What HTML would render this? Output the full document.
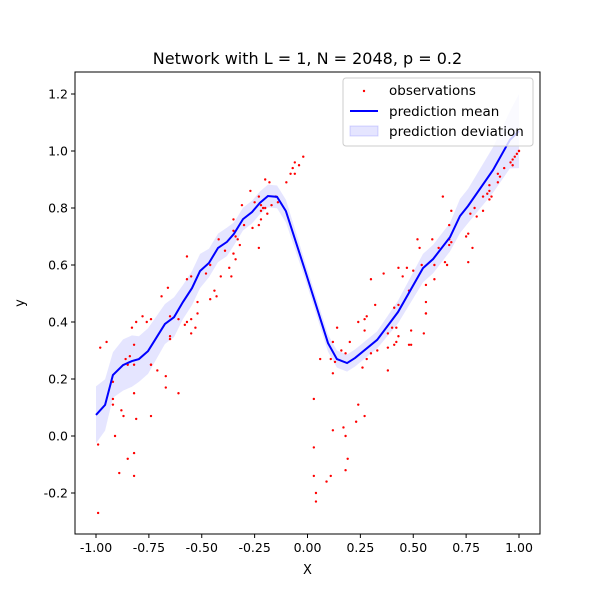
<!DOCTYPE html>
<html><head><meta charset="utf-8"><style>
body{margin:0;background:#fff;}
svg{font-family:"DejaVu Sans","Liberation Sans",sans-serif;}
</style></head><body>
<svg id="chart" width="600" height="600" xmlns="http://www.w3.org/2000/svg"></svg>
<script>
const obsX=[-.99,-.99,-.98,-.95,-.92,-.92,-.92,-.91,-.89,-.88,-.87,-.85,-.86,-.84,-.85,-.82,-.82,-.82,-.81,-.82,-.82,-.83,-.81,-.78,-.76,-.74,-.74,-.74,-.74,-.71,-.69,-.66,-.67,-.67,-.65,-.65,-.65,-.61,-.61,-.58,-.57,-.55,-.55,-.53,-.52,-.52,-.57,-.55,-.57,-.48,-.46,-.46,-.44,-.43,-.42,-.41,-.39,-.37,-.36,-.35,-.34,-.35,-.35,-.34,-.33,-.32,-.31,-.30,-.27,-.26,-.25,-.23,-.23,-.23,-.22,-.22,-.22,-.21,-.20,-.20,-.19,-.18,-.17,-.15,-.14,-.10,-.08,-.07,-.06,-.06,-.04,-.02,
.03,.03,.03,.04,.04,.06,.09,.11,.12,.12,.11,.12,.13,.14,.16,.17,.18,.18,.19,.18,.20,.23,.24,.24,.26,.27,.28,.27,.27,.28,.30,.30,.32,.33,.36,.38,.38,.38,.40,.41,.41,.42,.42,.43,.43,.43,.45,.47,.48,.49,.48,.49,.50,.52,.53,.54,.55,.56,.56,.56,.56,.59,.60,.60,.62,.64,.65,.66,.67,.67,.67,.68,.68,.75,.76,.76,.77,.78,.79,.80,.83,.83,.85,.86,.86,.87,.86,.90,.90,.91,.93,.96,.97,.97,.98,.99,1.0,1.0];
const obsY=[-.27,-.03,.31,.33,.19,.13,.11,0,-.13,.09,.07,-.08,.27,.28,.25,.32,.25,.15,.06,-.06,-.14,.38,.40,.42,.40,.41,.25,.25,.07,.23,.49,.52,.21,.17,.34,.35,.42,.41,.15,.39,.40,.41,.36,.38,.43,.47,.55,.56,.63,.57,.48,.60,.51,.49,.69,.56,.65,.59,.56,.64,.62,.76,.72,.70,.69,.67,.81,.74,.86,.73,.82,.74,.66,.84,.81,.76,.79,.80,.90,.80,.78,.89,.81,.84,.82,.89,.92,.94,.92,.96,.95,.98,
.13,-.04,-.14,-.20,-.23,.27,-.16,-.14,.02,.22,.27,.33,.26,.38,.30,.03,0,-.12,-.08,.29,.33,.05,.11,.40,.24,.41,.42,.37,.07,.27,.55,.29,.46,.30,.57,.36,.31,.23,.38,.45,.32,.33,.38,.35,.59,.46,.56,.59,.32,.32,.51,.37,.58,.69,.66,.60,.36,.43,.43,.47,.53,.69,.60,.55,.66,.84,.61,.60,.69,.74,.67,.79,.68,.70,.71,.61,.78,.66,.80,.77,.84,.79,.85,.86,.83,.84,.88,.92,.89,.91,.94,.96,.95,.97,.98,.99,1.0,1.0];
const meanX=[-1.0,-.957,-.92,-.872,-.83,-.797,-.754,-.674,-.631,-.589,-.546,-.508,-.466,-.423,-.381,-.348,-.305,-.262,-.225,-.187,-.144,-.102,-.012,.097,.139,.187,.225,.329,.428,.546,.594,.674,.721,.759,.877,.957,1.0];
const meanY=[.074,.109,.214,.249,.263,.270,.298,.393,.417,.470,.519,.579,.607,.660,.681,.709,.761,.786,.818,.842,.839,.789,.582,.326,.270,.256,.274,.337,.435,.589,.621,.698,.772,.807,.933,1.039,1.07];
const devY=[.1,.09,.08,.09,.09,.08,.08,.07,.07,.06,.06,.06,.05,.05,.05,.04,.04,.04,.04,.04,.04,.04,.03,.03,.03,.03,.03,.03,.04,.05,.05,.05,.06,.06,.08,.1,.13];
const xTicks=[-1.0,-0.75,-0.5,-0.25,0.0,0.25,0.5,0.75,1.0];
const yTicks=[-0.2,0.0,0.2,0.4,0.6,0.8,1.0,1.2];

const L=75,R=540,T=72,B=534;
const sx=v=>307.5+v*211.5;
const sy=v=>436-v*285;
const svg=document.getElementById('chart');
const NS='http://www.w3.org/2000/svg';
function mk(tag,attrs,parent){const e=document.createElementNS(NS,tag);for(const k in attrs)e.setAttribute(k,attrs[k]);(parent||svg).appendChild(e);return e;}

let pts=meanX.map((x,i)=>sx(x)+','+sy(meanY[i]+devY[i]));
pts=pts.concat(meanX.map((x,i)=>sx(x)+','+sy(meanY[i]-devY[i])).reverse());
const band=mk('polygon',{points:pts.join(' '),fill:'#0000ff',opacity:'0.1'});



const g=mk('g',{});


obsX.forEach((x,i)=>{const c=mk('circle',{cx:sx(x),cy:sy(obsY[i]),r:1.2,fill:'#ff0000'},g);

});

const ml=mk('polyline',{points:meanX.map((x,i)=>sx(x)+','+sy(meanY[i])).join(' '),fill:'none',stroke:'#0000ff','stroke-width':2});



const fr=mk('rect',{x:L,y:T,width:R-L,height:B-T,fill:'none',stroke:'#000','stroke-width':1});



xTicks.forEach(t=>{const x=sx(t);mk('line',{x1:x,x2:x,y1:B,y2:B+4,stroke:'#000'});
const tx=mk('text',{x:x,y:B+18,'font-size':'12.5','text-anchor':'middle'});tx.textContent=t.toFixed(2);

});
yTicks.forEach(t=>{const y=sy(t);mk('line',{x1:L-4,x2:L,y1:y,y2:y,stroke:'#000'});
const tx=mk('text',{x:L-7,y:y+4.5,'font-size':'12.5','text-anchor':'end'});tx.textContent=t.toFixed(1);

});

const title=mk('text',{x:307.5,y:64,'font-size':'16','text-anchor':'middle'});title.textContent='Network with L = 1, N = 2048, p = 0.2';


const xl=mk('text',{x:307.5,y:574,'font-size':'13','text-anchor':'middle'});xl.textContent='X';


const yl=mk('text',{x:24,y:303,'font-size':'13','text-anchor':'middle',transform:'rotate(-90 24 303)'});yl.textContent='y';



const lg=mk('g',{});


mk('rect',{x:343,y:78,width:190,height:68,rx:3,fill:'#fff','fill-opacity':'0.8',stroke:'#ccc'},lg);
mk('circle',{cx:364,cy:91,r:1.2,fill:'#ff0000'},lg);
mk('line',{x1:350,x2:378,y1:111,y2:111,stroke:'#0000ff','stroke-width':2},lg);
mk('rect',{x:350,y:126,width:28,height:10,fill:'#0000ff','fill-opacity':'0.1',stroke:'#0000ff','stroke-opacity':'0.15'},lg);
[['observations',95],['prediction mean',116],['prediction deviation',136]].forEach(([s,y])=>{
const t=mk('text',{x:389,y:y,'font-size':'13.5'},lg);t.textContent=s;

});
</script>
</body></html>
